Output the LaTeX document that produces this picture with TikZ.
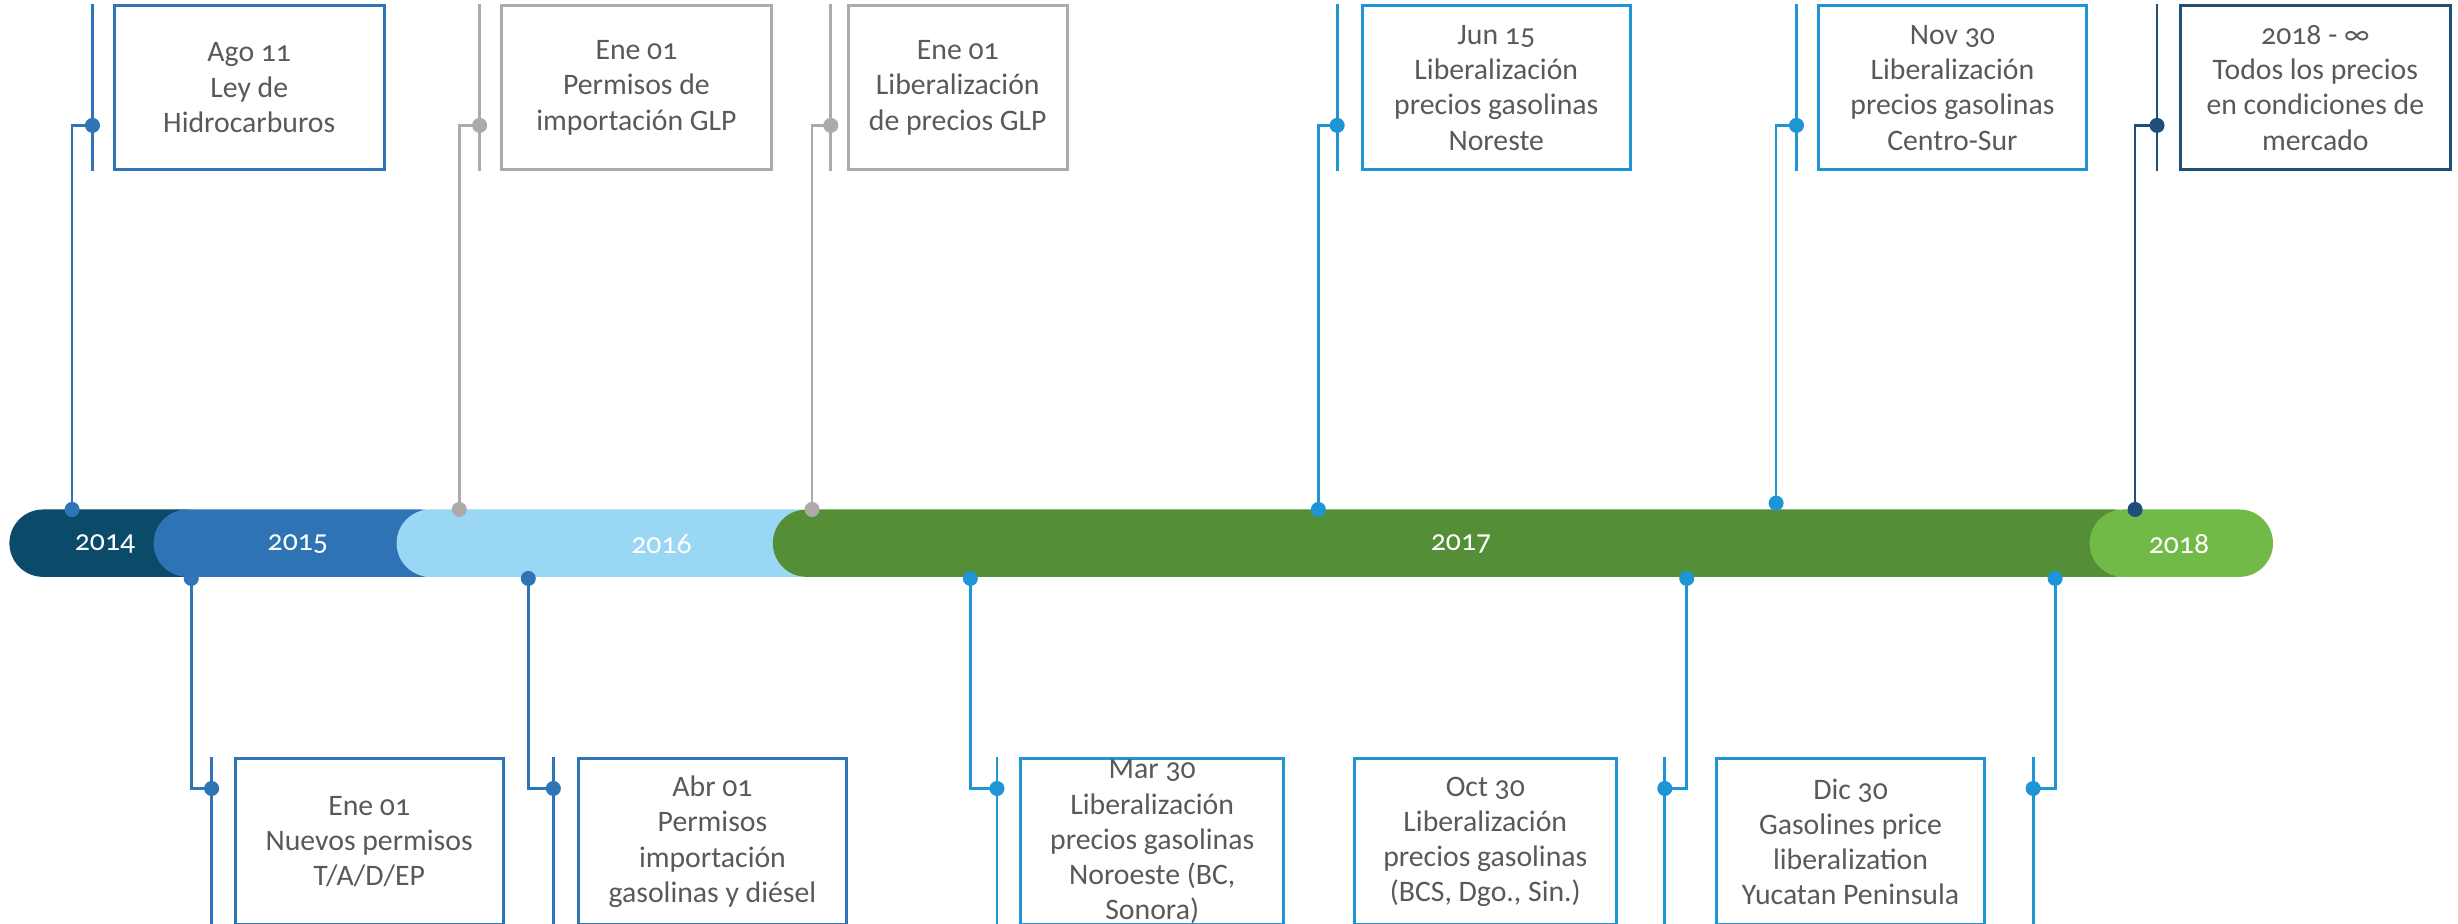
\documentclass[tikz,border=0pt]{standalone}
\usepackage{fontspec}
\setmainfont{Carlito}[Numbers=OldStyle]
\usepackage{tikz}

\definecolor{yrA}{HTML}{0B4A68}
\definecolor{yrB}{HTML}{2E74B5}
\definecolor{yrC}{HTML}{9AD7F5}
\definecolor{yrD}{HTML}{548F37}
\definecolor{yrE}{HTML}{72BA48}
\definecolor{evblue}{HTML}{2E75B6}
\definecolor{evgray}{HTML}{AEAAAA}
\definecolor{evcyan}{HTML}{1F95D6}
\definecolor{evnavy}{HTML}{1F4E79}
\definecolor{evtext}{HTML}{595959}

\tikzset{
    evbox/.style={draw, line width=0.55pt, inner sep=0pt, minimum height=10.45mm, text=evtext, align=center, font=\fontsize{5.4}{6.4}\selectfont},
    evline/.style={line width=0.5pt},
    yearlbl/.style={text=white, font=\fontsize{5.4}{6.4}\selectfont},
    barseg/.style={rounded corners=2.15mm},
}

\begin{document}
\begin{tikzpicture}[x=0.1mm, y=-0.1mm]
    \useasboundingbox (0, 0) rectangle (1568, 589);

    \fill[barseg, yrA] (6, 325) rectangle (140, 368);
    \fill[barseg, yrB] (98, 325) rectangle (290, 368);
    \fill[barseg, yrC] (253, 325) rectangle (530, 368);
    \fill[barseg, yrD] (493, 325) rectangle (1370, 368);
    \fill[barseg, yrE] (1333, 325) rectangle (1450, 368);
    \node[yearlbl] (y2014) at (67, 347) {2014};
    \node[yearlbl] (y2015) at (190, 347) {2015};
    \node[yearlbl] (y2016) at (422, 347) {2016};
    \node[yearlbl] (y2017) at (932, 347) {2017};
    \node[yearlbl] (y2018) at (1390, 347) {2018};

    \node[evbox, draw=evblue, minimum width=17.2mm] (ley) at (159, 56) {Ago 11\\Ley de\\Hidrocarburos};
    \coordinate (leybar) at (46, 325);
    \coordinate (leyside) at (59, 80);
    \draw[evline, evblue] (leybar) |- (leyside);
    \draw[evline, evblue] (leyside |- ley.north) -- (leyside |- ley.south);
    \fill[evblue] (leybar) circle (0.48mm) (leyside) circle (0.48mm);

    \node[evbox, draw=evgray, minimum width=17.2mm] (glpimp) at (406, 56) {Ene 01\\Permisos de\\importación GLP};
    \coordinate (glpimpbar) at (293, 325);
    \coordinate (glpimpside) at (306, 80);
    \draw[evline, evgray] (glpimpbar) |- (glpimpside);
    \draw[evline, evgray] (glpimpside |- glpimp.north) -- (glpimpside |- glpimp.south);
    \fill[evgray] (glpimpbar) circle (0.48mm) (glpimpside) circle (0.48mm);

    \node[evbox, draw=evgray, minimum width=14mm] (glplib) at (611, 56) {Ene 01\\Liberalización\\de precios GLP};
    \coordinate (glplibbar) at (518, 325);
    \coordinate (glplibside) at (530, 80);
    \draw[evline, evgray] (glplibbar) |- (glplibside);
    \draw[evline, evgray] (glplibside |- glplib.north) -- (glplibside |- glplib.south);
    \fill[evgray] (glplibbar) circle (0.48mm) (glplibside) circle (0.48mm);

    \node[evbox, draw=evcyan, minimum width=17.1mm] (noreste) at (954.5, 56) {Jun 15\\Liberalización\\precios gasolinas\\Noreste};
    \coordinate (norestebar) at (841, 325);
    \coordinate (noresteside) at (853, 80);
    \draw[evline, evcyan] (norestebar) |- (noresteside);
    \draw[evline, evcyan] (noresteside |- noreste.north) -- (noresteside |- noreste.south);
    \fill[evcyan] (norestebar) circle (0.48mm) (noresteside) circle (0.48mm);

    \node[evbox, draw=evcyan, minimum width=17.1mm] (centrosur) at (1245.5, 56) {Nov 30\\Liberalización\\precios gasolinas\\Centro-Sur};
    \coordinate (centrosurbar) at (1133, 321);
    \coordinate (centrosurside) at (1146, 80);
    \draw[evline, evcyan] (centrosurbar) |- (centrosurside);
    \draw[evline, evcyan] (centrosurside |- centrosur.north) -- (centrosurside |- centrosur.south);
    \fill[evcyan] (centrosurbar) circle (0.48mm) (centrosurside) circle (0.48mm);

    \node[evbox, draw=evnavy, minimum width=17.2mm] (mercado) at (1477, 56) {2018 - ∞\\Todos los precios\\en condiciones de\\mercado};
    \coordinate (mercadobar) at (1362, 325);
    \coordinate (mercadoside) at (1376, 80);
    \draw[evline, evnavy] (mercadobar) |- (mercadoside);
    \draw[evline, evnavy] (mercadoside |- mercado.north) -- (mercadoside |- mercado.south);
    \fill[evnavy] (mercadobar) circle (0.48mm) (mercadoside) circle (0.48mm);

    \node[evbox, draw=evblue, minimum width=17.1mm, minimum height=10.6mm] (permisos) at (235.5, 537) {Ene 01\\Nuevos permisos\\T/A/D/EP};
    \coordinate (permisosbar) at (122, 369);
    \coordinate (permisosside) at (135, 503);
    \draw[evline, evblue] (permisosbar) |- (permisosside);
    \draw[evline, evblue] (permisosside |- permisos.north) -- (permisosside |- permisos.south);
    \fill[evblue] (permisosbar) circle (0.48mm) (permisosside) circle (0.48mm);

    \node[evbox, draw=evblue, minimum width=17.1mm, minimum height=10.6mm] (importacion) at (454.5, 537) {Abr 01\\Permisos\\importación\\gasolinas y diésel};
    \coordinate (importacionbar) at (337, 369);
    \coordinate (importacionside) at (353, 503);
    \draw[evline, evblue] (importacionbar) |- (importacionside);
    \draw[evline, evblue] (importacionside |- importacion.north) -- (importacionside |- importacion.south);
    \fill[evblue] (importacionbar) circle (0.48mm) (importacionside) circle (0.48mm);

    \node[evbox, draw=evcyan, minimum width=16.8mm, minimum height=10.6mm] (noroeste) at (735, 537) {Mar 30\\Liberalización\\precios gasolinas\\Noroeste (BC,\\Sonora)};
    \coordinate (noroestebar) at (619, 369);
    \coordinate (noroesteside) at (636, 503);
    \draw[evline, evcyan] (noroestebar) |- (noroesteside);
    \draw[evline, evcyan] (noroesteside |- noroeste.north) -- (noroesteside |- noroeste.south);
    \fill[evcyan] (noroestebar) circle (0.48mm) (noroesteside) circle (0.48mm);

    \node[evbox, draw=evcyan, minimum width=16.7mm, minimum height=10.6mm] (bcs) at (947.5, 537) {Oct 30\\Liberalización\\precios gasolinas\\(BCS, Dgo., Sin.)};
    \coordinate (bcsbar) at (1076, 369);
    \coordinate (bcsside) at (1062, 503);
    \draw[evline, evcyan] (bcsbar) |- (bcsside);
    \draw[evline, evcyan] (bcsside |- bcs.north) -- (bcsside |- bcs.south);
    \fill[evcyan] (bcsbar) circle (0.48mm) (bcsside) circle (0.48mm);

    \node[evbox, draw=evcyan, minimum width=17.1mm, minimum height=10.6mm] (yucatan) at (1180.5, 537) {Dic 30\\Gasolines price\\liberalization\\Yucatan Peninsula};
    \coordinate (yucatanbar) at (1311, 369);
    \coordinate (yucatanside) at (1297, 503);
    \draw[evline, evcyan] (yucatanbar) |- (yucatanside);
    \draw[evline, evcyan] (yucatanside |- yucatan.north) -- (yucatanside |- yucatan.south);
    \fill[evcyan] (yucatanbar) circle (0.48mm) (yucatanside) circle (0.48mm);
\end{tikzpicture}
\end{document}
